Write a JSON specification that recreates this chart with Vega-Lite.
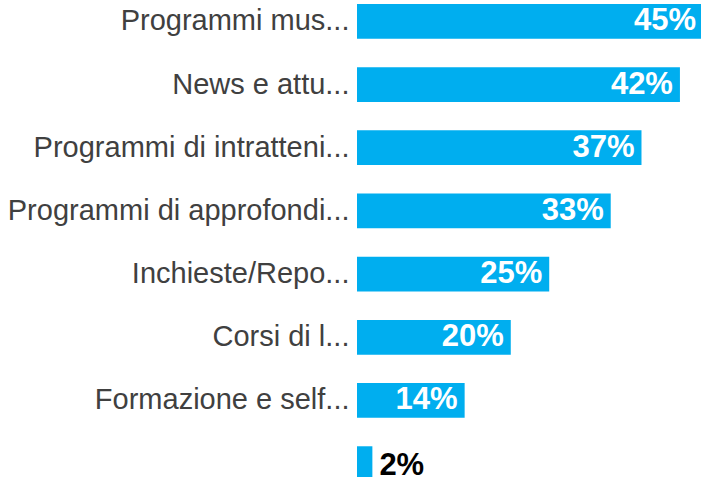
{
  "$schema": "https://vega.github.io/schema/vega-lite/v6.json",
  "width": 346,
  "height": 485,
  "autosize": {"type": "none"},
  "padding": {"left": 357, "top": 0, "right": 0, "bottom": 0},
  "background": "white",
  "config": {"view": {"stroke": null}},
  "data": {
    "values": [
      {"cat": "Programmi mus...", "v": 0.45},
      {"cat": "News e attu...", "v": 0.42},
      {"cat": "Programmi di intratteni...", "v": 0.37},
      {"cat": "Programmi di approfondi...", "v": 0.33},
      {"cat": "Inchieste/Repo...", "v": 0.25},
      {"cat": "Corsi di l...", "v": 0.20},
      {"cat": "Formazione e self...", "v": 0.14},
      {"cat": "", "v": 0.02}
    ]
  },
  "encoding": {
    "y": {
      "field": "cat",
      "type": "nominal",
      "sort": null,
      "scale": {"paddingInner": 0.45, "paddingOuter": 0.063},
      "axis": {
        "title": null,
        "domain": false,
        "ticks": false,
        "labelFont": "Liberation Sans",
        "labelFontSize": 29,
        "labelColor": "#404040",
        "labelPadding": 8,
        "labelLimit": 400
      }
    },
    "x": {
      "field": "v",
      "type": "quantitative",
      "scale": {"domain": [0, 0.45], "nice": false},
      "axis": null
    }
  },
  "layer": [
    {"mark": {"type": "bar", "color": "#00AEEF"}},
    {
      "transform": [{"filter": "datum.v > 0.05"}],
      "mark": {"type": "text", "align": "right", "baseline": "middle", "dx": -7, "font": "Liberation Sans", "fontSize": 31, "fontWeight": "bold", "color": "white"},
      "encoding": {"text": {"field": "v", "type": "quantitative", "format": ".0%"}}
    },
    {
      "transform": [{"filter": "datum.v <= 0.05"}],
      "mark": {"type": "text", "align": "left", "baseline": "middle", "dx": 7, "dy": 2, "font": "Liberation Sans", "fontSize": 31, "fontWeight": "bold", "color": "black"},
      "encoding": {"text": {"field": "v", "type": "quantitative", "format": ".0%"}}
    }
  ]
}
